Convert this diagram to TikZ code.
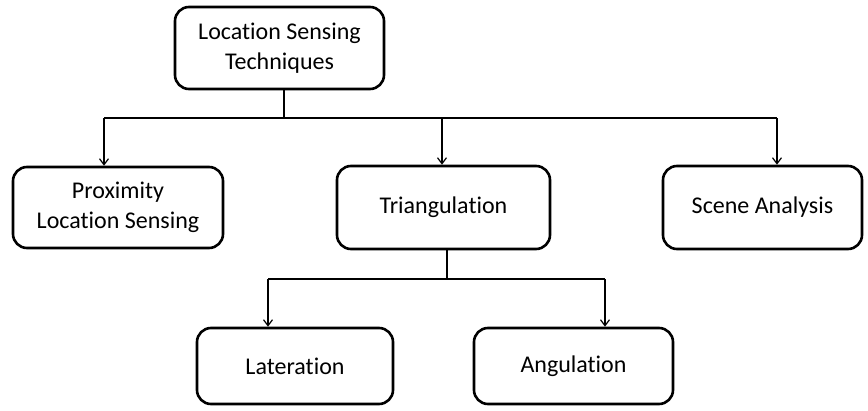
\documentclass[tikz,border=0pt]{standalone}
\usepackage{fontspec}
\setmainfont{Carlito}[Ligatures=NoCommon]
\usetikzlibrary{arrows.meta}
\begin{document}
\begin{tikzpicture}[x=1pt,y=-1pt,
  box/.style={draw,line width=2.6pt,rounded corners=14pt,align=center,
    font=\fontsize{24}{30}\selectfont,inner sep=0pt},
  conn/.style={line width=1.8pt},
  arr/.style={conn,-{Straight Barb[length=6pt,width=9pt,line width=1.2pt]}}]
\useasboundingbox (0,0) rectangle (868,410);
\node[box,minimum width=209pt,minimum height=82pt] (top) at (279.5,48) {Location Sensing\\Techniques};
\node[box,minimum width=210pt,minimum height=81pt] (prox) at (118,207.5) {Proximity\\Location Sensing};
\node[box,minimum width=213pt,minimum height=83pt] (tri) at (443.5,207.5) {Triangulation};
\node[box,minimum width=199pt,minimum height=83pt] (scene) at (762.5,207.5) {Scene Analysis};
\node[box,minimum width=196pt,minimum height=76pt] (lat) at (295,366) {Lateration};
\node[box,minimum width=199pt,minimum height=76pt] (ang) at (573.5,366) {Angulation};
% upper tree
\coordinate (j1) at (284,118);
\coordinate (a1) at (104,118);
\coordinate (a2) at (442,118);
\coordinate (a3) at (777,118);
\draw[conn] (top.south -| j1) -- (j1);
\draw[conn] (a1) -- (a3);
\draw[arr] (a1) -- (a1 |- prox.north);
\draw[arr] (a2) -- (a2 |- tri.north);
\draw[arr] (a3) -- (a3 |- scene.north);
% lower tree
\coordinate (j2) at (447,279);
\coordinate (b1) at (268,279);
\coordinate (b2) at (605,279);
\draw[conn] (tri.south -| j2) -- (j2);
\draw[conn] (b1) -- (b2);
\draw[arr] (b1) -- (b1 |- lat.north);
\draw[arr] (b2) -- (b2 |- ang.north);
\end{tikzpicture}
\end{document}
